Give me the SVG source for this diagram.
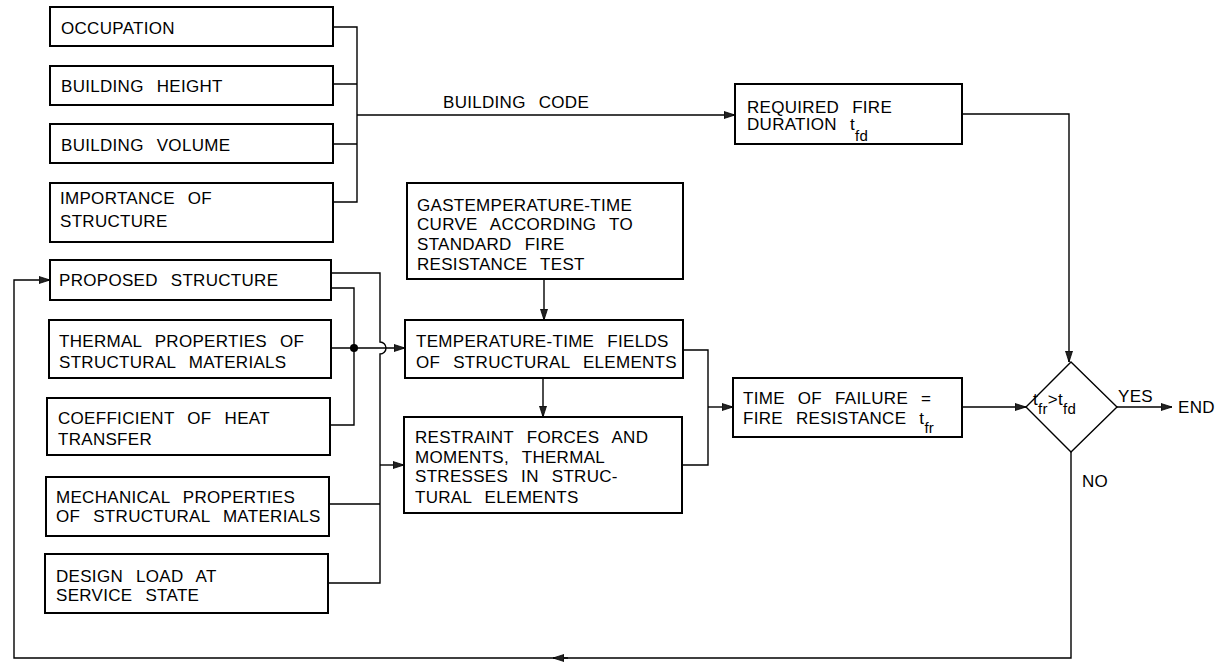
<svg xmlns="http://www.w3.org/2000/svg" width="1228" height="664" viewBox="0 0 1228 664">
<style>
.box{fill:#fff;stroke:#000;stroke-width:2}
.ln{fill:none;stroke:#000;stroke-width:1.4}
.arr{fill:none;stroke:#000;stroke-width:1.4;marker-end:url(#ah)}
text{font-family:"Liberation Sans",Arial,sans-serif;font-size:17px;letter-spacing:0.3px;word-spacing:8px;fill:#000}
.sub{font-size:15px}
</style>
<defs>
<marker id="ah" markerUnits="userSpaceOnUse" markerWidth="12" markerHeight="8" refX="11" refY="4" orient="auto">
<path d="M0,0.5 L11,4 L0,7.5 z" fill="#222" stroke="#000" stroke-width="0.8"/>
</marker>
</defs>
<rect width="1228" height="664" fill="#fff"/>
<g id="connectors">
<path class="ln" d="M333,27 H357 V202 H333 M333,84 H357 M333,144 H357"/>
<path class="arr" d="M357,115 H735"/>
<path class="arr" d="M962,114 H1069 V362"/>
<path class="ln" d="M331,273 H380 V342 A6,6 0 0 1 380,354 V583 H328 M329,504 H380"/>
<path class="arr" d="M380,465 H404"/>
<path class="ln" d="M331,288 H354 V425 H330"/>
<path class="arr" d="M331,348 H405"/>
<circle cx="354" cy="348" r="4" fill="#000"/>
<path class="arr" d="M544,279 V320"/>
<path class="arr" d="M543,378 V417"/>
<path class="ln" d="M683,350 H708 V465 H682"/>
<path class="arr" d="M708,407 H733"/>
<path class="arr" d="M962,407 H1026"/>
<path class="arr" d="M1117,407 H1172"/>
<path class="arr" d="M1071,452 V658 H14 V280 H50"/>
<path class="arr" d="M568,658 H553"/>
<text x="443" y="108">BUILDING CODE</text>
<text x="1118" y="402">YES</text>
<text x="1082" y="487">NO</text>
<text x="1178" y="413">END</text>
</g>
<g id="n-occupation"><rect class="box" x="50" y="7" width="283" height="39"/><text x="61" y="34">OCCUPATION</text></g>
<g id="n-height"><rect class="box" x="50" y="66" width="283" height="39"/><text x="61" y="92">BUILDING HEIGHT</text></g>
<g id="n-volume"><rect class="box" x="50" y="124" width="283" height="39"/><text x="61" y="151">BUILDING VOLUME</text></g>
<g id="n-importance"><rect class="box" x="50" y="183" width="283" height="59"/><text x="60" y="204">IMPORTANCE OF</text><text x="60" y="227">STRUCTURE</text></g>
<g id="n-proposed"><rect class="box" x="50" y="260" width="281" height="40"/><text x="59" y="286">PROPOSED STRUCTURE</text></g>
<g id="n-thermal"><rect class="box" x="49" y="320" width="282" height="58"/><text x="59" y="347">THERMAL PROPERTIES OF</text><text x="59" y="368">STRUCTURAL MATERIALS</text></g>
<g id="n-coefficient"><rect class="box" x="47" y="398" width="283" height="57"/><text x="58" y="424">COEFFICIENT OF HEAT</text><text x="58" y="445">TRANSFER</text></g>
<g id="n-mechanical"><rect class="box" x="46" y="477" width="283" height="59"/><text x="56" y="503">MECHANICAL PROPERTIES</text><text x="56" y="522">OF STRUCTURAL MATERIALS</text></g>
<g id="n-design"><rect class="box" x="45" y="554" width="283" height="59"/><text x="56" y="582">DESIGN LOAD AT</text><text x="56" y="601">SERVICE STATE</text></g>
<g id="n-gastemp"><rect class="box" x="407" y="183" width="276" height="96"/><text x="417" y="211">GASTEMPERATURE-TIME</text><text x="417" y="230">CURVE ACCORDING TO</text><text x="417" y="250">STANDARD FIRE</text><text x="417" y="270">RESISTANCE TEST</text></g>
<g id="n-tempfields"><rect class="box" x="405" y="320" width="278" height="58"/><text x="416" y="347">TEMPERATURE-TIME FIELDS</text><text x="416" y="368">OF STRUCTURAL ELEMENTS</text></g>
<g id="n-restraint"><rect class="box" x="404" y="417" width="278" height="96"/><text x="415" y="443">RESTRAINT FORCES AND</text><text x="415" y="463">MOMENTS, THERMAL</text><text x="415" y="482">STRESSES IN STRUC-</text><text x="415" y="503">TURAL ELEMENTS</text></g>
<g id="n-required"><rect class="box" x="735" y="84" width="227" height="60"/><text x="747" y="113">REQUIRED FIRE</text><text x="747" y="130">DURATION t<tspan class="sub" dy="11">fd</tspan></text></g>
<g id="n-failure"><rect class="box" x="733" y="378" width="229" height="59"/><text x="743" y="404">TIME OF FAILURE =</text><text x="743" y="424">FIRE RESISTANCE t<tspan class="sub" dy="9">fr</tspan></text></g>
<g id="n-decision"><polygon class="ln" points="1071,362 1117,407 1071,452 1026,407" fill="#fff"/><text x="1033" y="405" letter-spacing="0">t<tspan class="sub" dy="9">fr</tspan><tspan dy="-9">&gt;</tspan>t<tspan class="sub" dy="9">fd</tspan></text></g>
</svg>
